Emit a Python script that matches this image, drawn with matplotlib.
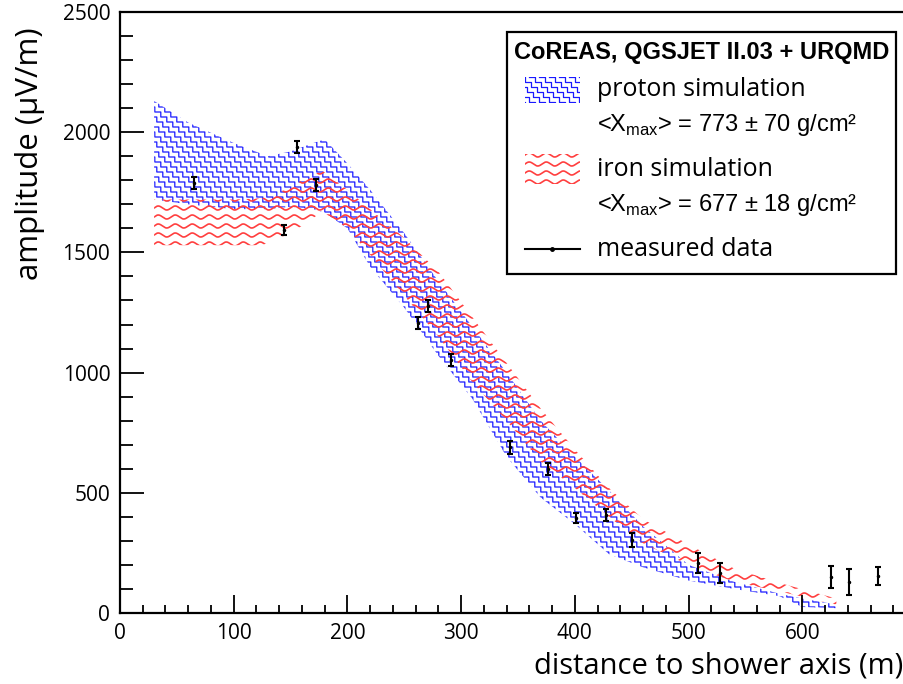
import numpy as np
import matplotlib
matplotlib.use('Agg')
import matplotlib.pyplot as plt
from matplotlib.lines import Line2D
from matplotlib.patches import Rectangle
from matplotlib.transforms import IdentityTransform

plt.rcParams['font.family'] = ['Open Sans', 'DejaVu Sans']
plt.rcParams['mathtext.fontset'] = 'custom'
plt.rcParams['mathtext.rm'] = 'Liberation Sans'

# measured data
dist = [65, 144, 156, 172, 262, 271, 291, 343, 376, 401, 427, 450, 508, 528, 625, 641, 667]
amp = [1789, 1593, 1938, 1780, 1206, 1277, 1052, 690, 599, 395, 408, 304, 208, 166, 150, 129, 154]
amp_err = [26, 22, 26, 25, 26, 26, 26, 27, 27, 22, 26, 30, 40, 42, 46, 55, 39]

# proton simulation band
p_x = [30, 60, 100, 130, 150, 170, 180, 200, 220, 250, 280, 310, 340, 370, 400, 430, 460, 500, 540, 580, 600, 630]
p_hi = [2130, 2040, 1955, 1900, 1920, 1955, 1970, 1870, 1760, 1580, 1380, 1190, 1000, 800, 650, 510, 360, 200, 130, 80, 60, 35]
p_lo = [1720, 1700, 1680, 1680, 1690, 1680, 1665, 1600, 1440, 1270, 1070, 890, 650, 480, 370, 245, 190, 135, 100, 70, 25, 20]

# iron simulation band
fe_x = [30, 60, 100, 125, 145, 160, 178, 200, 220, 250, 280, 310, 340, 370, 400, 430, 460, 500, 540, 580, 630]
fe_hi = [1720, 1720, 1720, 1725, 1760, 1800, 1840, 1760, 1680, 1560, 1420, 1230, 1040, 850, 680, 520, 390, 285, 185, 125, 60]
fe_lo = [1530, 1530, 1530, 1530, 1570, 1610, 1670, 1600, 1490, 1320, 1150, 960, 800, 630, 520, 400, 290, 200, 130, 90, 35]

W, H = 904, 684
fig = plt.figure(figsize=(W / 100, H / 100), dpi=100)
ax = fig.add_axes([120 / W, 71 / H, 796 / W, 601 / H])
ax.set_xlim(0, 700)
ax.set_ylim(0, 2500)


def stairs(x0, x1, y0, y1, w=6, h=5, dx=10):
    # staircase lines going down to the right, in pixels
    xs, ys = [], []
    span = (x1 - x0) + (y1 - y0) * w / h
    for off in np.arange(x0 - span, x1 + dx, dx):
        px, py = off, y1
        pts_x, pts_y = [px], [py]
        while px < x1 and py > y0:
            px += w
            pts_x.append(px); pts_y.append(py)
            py -= h
            pts_x.append(px); pts_y.append(py)
        xs += pts_x + [np.nan]
        ys += pts_y + [np.nan]
    return np.array(xs), np.array(ys)


def waves(x0, x1, y0, y1, lam=17, amp=2.0, dy=9):
    xs, ys = [], []
    t = np.arange(x0, x1 + 1, 0.5)
    for c in np.arange(y0, y1 + dy, dy):
        xs += list(t) + [np.nan]
        ys += list(c + amp * np.sin(2 * np.pi * (t - x0) / lam)) + [np.nan]
    return np.array(xs), np.array(ys)


blue = '#1a1aff'
red = '#ff3f3f'

# bands: invisible polygons used as clip paths for the hatching
p_band = ax.fill_between(p_x, p_lo, p_hi, facecolor='none', edgecolor='none')
fe_band = ax.fill_between(fe_x, fe_lo, fe_hi, facecolor='none', edgecolor='none')

sx, sy = stairs(120, 904, 71, 672)
ln = Line2D(sx, sy, color=blue, lw=0.9, transform=IdentityTransform(), zorder=1)
ax.add_artist(ln)
ln.set_clip_path(p_band.get_paths()[0], ax.transData)

wx, wy = waves(120, 904, 71, 672)
ln = Line2D(wx, wy, color=red, lw=1.2, transform=IdentityTransform(), zorder=1.5)
ax.add_artist(ln)
ln.set_clip_path(fe_band.get_paths()[0], ax.transData)

ax.errorbar(dist, amp, yerr=amp_err, fmt='o', color='black', markersize=1.5,
            elinewidth=1.5, capsize=2, capthick=1.5, zorder=3)

# axes styling
for s in ['left', 'bottom', 'top']:
    ax.spines[s].set_linewidth(1.6)
ax.spines['right'].set_visible(False)
ax.set_xticks(np.arange(0, 601, 100))
ax.set_xticks(np.arange(0, 701, 20), minor=True)
ax.set_yticks(np.arange(0, 2501, 500))
ax.set_yticks(np.arange(0, 2501, 100), minor=True)
ax.tick_params(axis='both', which='both', direction='in', width=1.3, labelsize=15)
ax.tick_params(axis='x', which='major', length=13, pad=7)
ax.tick_params(axis='x', which='minor', length=6)
ax.tick_params(axis='y', which='major', length=17, pad=7)
ax.tick_params(axis='y', which='minor', length=9)

fig.text(903 / W, 1 - 666 / H, 'distance to shower axis (m)', ha='right', va='center', fontsize=21)
fig.text(30 / W, 1 - 27 / H, 'amplitude (µV/m)', ha='center', va='top', rotation=90, fontsize=22.5)

# legend drawn by hand
def fx(px):
    return px / W


def fy(py):
    return 1 - py / H


fig.add_artist(Rectangle((507, H - 274), 389, 242, transform=IdentityTransform(),
                         facecolor='white', edgecolor='black', lw=1.6, zorder=5))
fig.text(fx(702), fy(53), 'CoREAS, QGSJET II.03 + URQMD', ha='center', va='center',
         fontsize=17, fontweight='bold', family=['Liberation Sans', 'DejaVu Sans'], zorder=6)

lx, ly = stairs(525, 580, H - 103, H - 77)
sample = Line2D(lx, ly, color=blue, lw=0.9, transform=IdentityTransform(), zorder=6)
fig.add_artist(sample)
sample.set_clip_path(Rectangle((525, H - 103), 55, 26, transform=IdentityTransform()))

lx, ly = waves(525, 580, H - 182, H - 157)
sample = Line2D(lx, ly, color=red, lw=1.2, transform=IdentityTransform(), zorder=6)
fig.add_artist(sample)
sample.set_clip_path(Rectangle((525, H - 184), 55, 30, transform=IdentityTransform()))

fig.add_artist(Line2D([fx(525), fx(580)], [fy(249), fy(249)], color='black', lw=1.5, zorder=6))
fig.add_artist(Line2D([fx(552)], [fy(249)], marker='o', markersize=2.5, color='black', zorder=6))

nkw = dict(fontsize=18, family=['Open Sans', 'DejaVu Sans'], va='center', zorder=6)
xkw = dict(fontsize=17, family=['Liberation Sans', 'DejaVu Sans'], va='center', zorder=6)
fig.text(fx(597), fy(90), 'proton simulation', **nkw)
fig.text(fx(597), fy(125), r'<X$_{\rm max}$> = 773 ± 70 g/cm²', **xkw)
fig.text(fx(597), fy(170), 'iron simulation', **nkw)
fig.text(fx(597), fy(205), r'<X$_{\rm max}$> = 677 ± 18 g/cm²', **xkw)
fig.text(fx(597), fy(249), 'measured data', **nkw)

fig.savefig('out.png', dpi=100)
